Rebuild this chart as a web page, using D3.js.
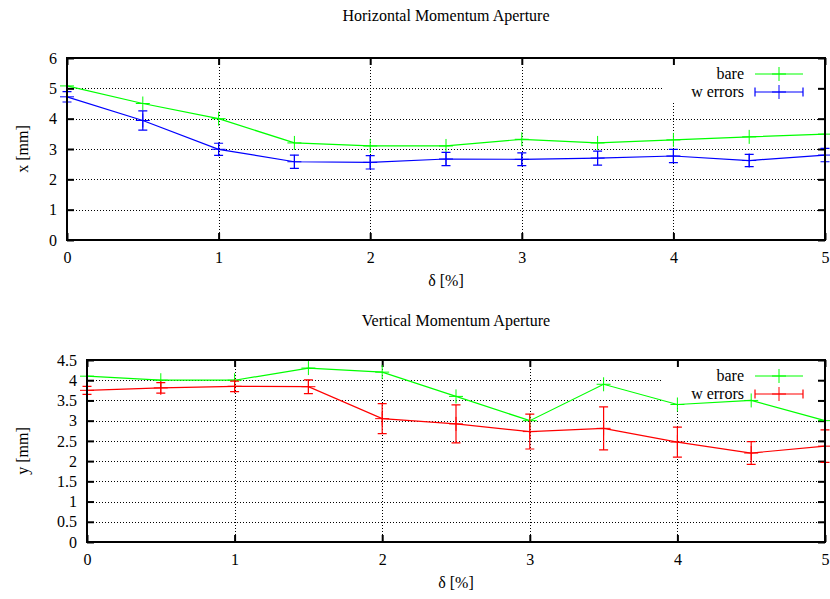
<!DOCTYPE html>
<html>
<head>
<meta charset="utf-8">
<script src="https://cdn.jsdelivr.net/npm/d3@7"></script>
<style>
  html, body { margin: 0; padding: 0; background: #fff; }
  svg text { font-family: "Liberation Serif", "Times New Roman", serif; font-size: 16px; fill: #000; }
</style>
</head>
<body>
<svg id="chart" width="830" height="599"></svg>
<script>
// Momentum offset δ [%]
const delta = [0, 0.5, 1, 1.5, 2, 2.5, 3, 3.5, 4, 4.5, 5];

// Horizontal aperture x [mm]
const hBare = [5.08, 4.5, 4.0, 3.2, 3.1, 3.1, 3.32, 3.2, 3.3, 3.4, 3.49];
const hErrors = [4.72, 3.94, 2.99, 2.58, 2.56, 2.67, 2.66, 2.70, 2.77, 2.62, 2.80];
const hErrorsSigma = [0.17, 0.32, 0.20, 0.22, 0.22, 0.22, 0.21, 0.23, 0.22, 0.20, 0.22];

// Vertical aperture y [mm]
const vBare = [4.1, 4.0, 4.0, 4.3, 4.2, 3.6, 3.0, 3.9, 3.4, 3.5, 3.0];
const vErrors = [3.75, 3.81, 3.85, 3.84, 3.05, 2.92, 2.73, 2.81, 2.47, 2.20, 2.37];
const vErrorsSigma = [0.10, 0.13, 0.13, 0.17, 0.37, 0.47, 0.43, 0.53, 0.37, 0.28, 0.40];

const xTicks = [0, 1, 2, 3, 4, 5];
const hYTicks = [0, 1, 2, 3, 4, 5, 6];
const vYTicks = [0, 0.5, 1, 1.5, 2, 2.5, 3, 3.5, 4, 4.5];

const seriesNames = ["bare", "w errors"];
const colBare = "#00ff00";
const colHErr = "#0000ff";
const colVErr = "#ff0000";

const svg = d3.select("#chart");

function panel(opts) {
  const { left, right, top, bottom, yMax, yTicks, title, titleY, yTitle, bare, err, sigma, errColor } = opts;
  const x = d3.scaleLinear().domain([0, 5]).range([left, right]);
  const y = d3.scaleLinear().domain([0, yMax]).range([bottom, top]);
  const g = svg.append("g");
  const legendLeft = 663, legendBottom = top + 43;

  // dotted grid
  const grid = g.append("g").attr("stroke", "#000").attr("stroke-width", 1)
    .attr("stroke-dasharray", "1,2").attr("fill", "none");
  yTicks.filter(v => v > 0 && v < yMax).forEach(v => {
    grid.append("line").attr("x1", left).attr("x2", right)
      .attr("y1", Math.round(y(v)) + 0.5).attr("y2", Math.round(y(v)) + 0.5);
  });
  xTicks.filter(v => v > 0 && v < 5).forEach(v => {
    grid.append("line").attr("x1", Math.round(x(v)) + 0.5).attr("x2", Math.round(x(v)) + 0.5)
      .attr("y1", top).attr("y2", bottom);
  });
  // legend background hides the grid beneath the key
  g.append("rect").attr("x", legendLeft).attr("y", top).attr("width", right - legendLeft)
    .attr("height", legendBottom - top).attr("fill", "#fff");

  // axes with inward ticks on all four sides
  const tickLen = 7;
  const axB = g.append("g").attr("transform", `translate(0,${bottom})`)
    .call(d3.axisBottom(x).tickValues(xTicks).tickSizeInner(-tickLen).tickSizeOuter(0).tickPadding(12).tickFormat(d3.format("d")));
  const axT = g.append("g").attr("transform", `translate(0,${top})`)
    .call(d3.axisTop(x).tickValues(xTicks).tickSizeInner(-tickLen).tickSizeOuter(0).tickFormat(""));
  const axL = g.append("g").attr("transform", `translate(${left},0)`)
    .call(d3.axisLeft(y).tickValues(yTicks).tickSizeInner(-tickLen).tickSizeOuter(0).tickPadding(10).tickFormat(d => String(d)));
  const axR = g.append("g").attr("transform", `translate(${right},0)`)
    .call(d3.axisRight(y).tickValues(yTicks).tickSizeInner(-tickLen).tickSizeOuter(0).tickFormat(""));
  [axB, axT, axL, axR].forEach(a => {
    a.attr("font-family", null).attr("font-size", null);
    a.select(".domain").remove();
    a.selectAll(".tick line").attr("stroke", "#000").attr("stroke-width", 2);
    a.selectAll("text").style("fill", "#000");
  });

  // series
  const line = d3.line().x((d, i) => x(delta[i])).y(d => y(d));
  const capW = 4.5, plusS = 7;
  function plus(sel, cx, cy, color) {
    sel.append("path").attr("d", `M${cx - plusS},${cy}H${cx + plusS}M${cx},${cy - plusS}V${cy + plusS}`)
      .attr("stroke", color).attr("stroke-width", 1).attr("fill", "none");
  }

  g.append("path").datum(bare).attr("d", line).attr("fill", "none").attr("stroke", colBare).attr("stroke-width", 1.2);
  bare.forEach((v, i) => plus(g, x(delta[i]), y(v), colBare));

  g.append("path").datum(err).attr("d", line).attr("fill", "none").attr("stroke", errColor).attr("stroke-width", 1.2);
  err.forEach((v, i) => {
    const cx = x(delta[i]), y0 = y(v - sigma[i]), y1 = y(v + sigma[i]);
    g.append("path").attr("d", `M${cx},${y0}V${y1}M${cx - capW},${y0}H${cx + capW}M${cx - capW},${y1}H${cx + capW}`)
      .attr("stroke", errColor).attr("stroke-width", 1.2).attr("fill", "none");
    plus(g, cx, y(v), errColor);
  });

  // border
  g.append("rect").attr("x", left).attr("y", top).attr("width", right - left).attr("height", bottom - top)
    .attr("fill", "none").attr("stroke", "#000").attr("stroke-width", 2);

  // key
  const kx0 = 755, kx1 = 803, kxm = 779, ky0 = top + 16, ky1 = top + 34;
  g.append("text").attr("x", 744).attr("y", ky0).attr("dy", "0.33em").attr("text-anchor", "end").text(seriesNames[0]);
  g.append("line").attr("x1", kx0).attr("x2", kx1).attr("y1", ky0).attr("y2", ky0).attr("stroke", colBare).attr("stroke-width", 1.2);
  plus(g, kxm, ky0, colBare);
  g.append("text").attr("x", 744).attr("y", ky1).attr("dy", "0.33em").attr("text-anchor", "end").text(seriesNames[1]);
  g.append("path").attr("d", `M${kx0},${ky1}H${kx1}M${kx0},${ky1 - capW}V${ky1 + capW}M${kx1},${ky1 - capW}V${ky1 + capW}`)
    .attr("stroke", errColor).attr("stroke-width", 1.2).attr("fill", "none");
  plus(g, kxm, ky1, errColor);

  // titles
  const cx = (left + right) / 2;
  g.append("text").attr("x", cx).attr("y", titleY).attr("dy", "0.33em").attr("text-anchor", "middle").text(title);
  g.append("text").attr("x", cx).attr("y", bottom + 41).attr("dy", "0.33em").attr("text-anchor", "middle").text("δ [%]");
  g.append("text").attr("transform", `translate(23,${(top + bottom) / 2}) rotate(-90)`)
    .attr("dy", "0.33em").attr("text-anchor", "middle").text(yTitle);
}

panel({ left: 67, right: 825, top: 58, bottom: 240, yMax: 6, yTicks: hYTicks,
  title: "Horizontal Momentum Aperture", titleY: 16, yTitle: "x [mm]",
  bare: hBare, err: hErrors, sigma: hErrorsSigma, errColor: colHErr });

panel({ left: 87, right: 825, top: 360, bottom: 542, yMax: 4.5, yTicks: vYTicks,
  title: "Vertical Momentum Aperture", titleY: 321, yTitle: "y [mm]",
  bare: vBare, err: vErrors, sigma: vErrorsSigma, errColor: colVErr });
</script>
</body>
</html>
